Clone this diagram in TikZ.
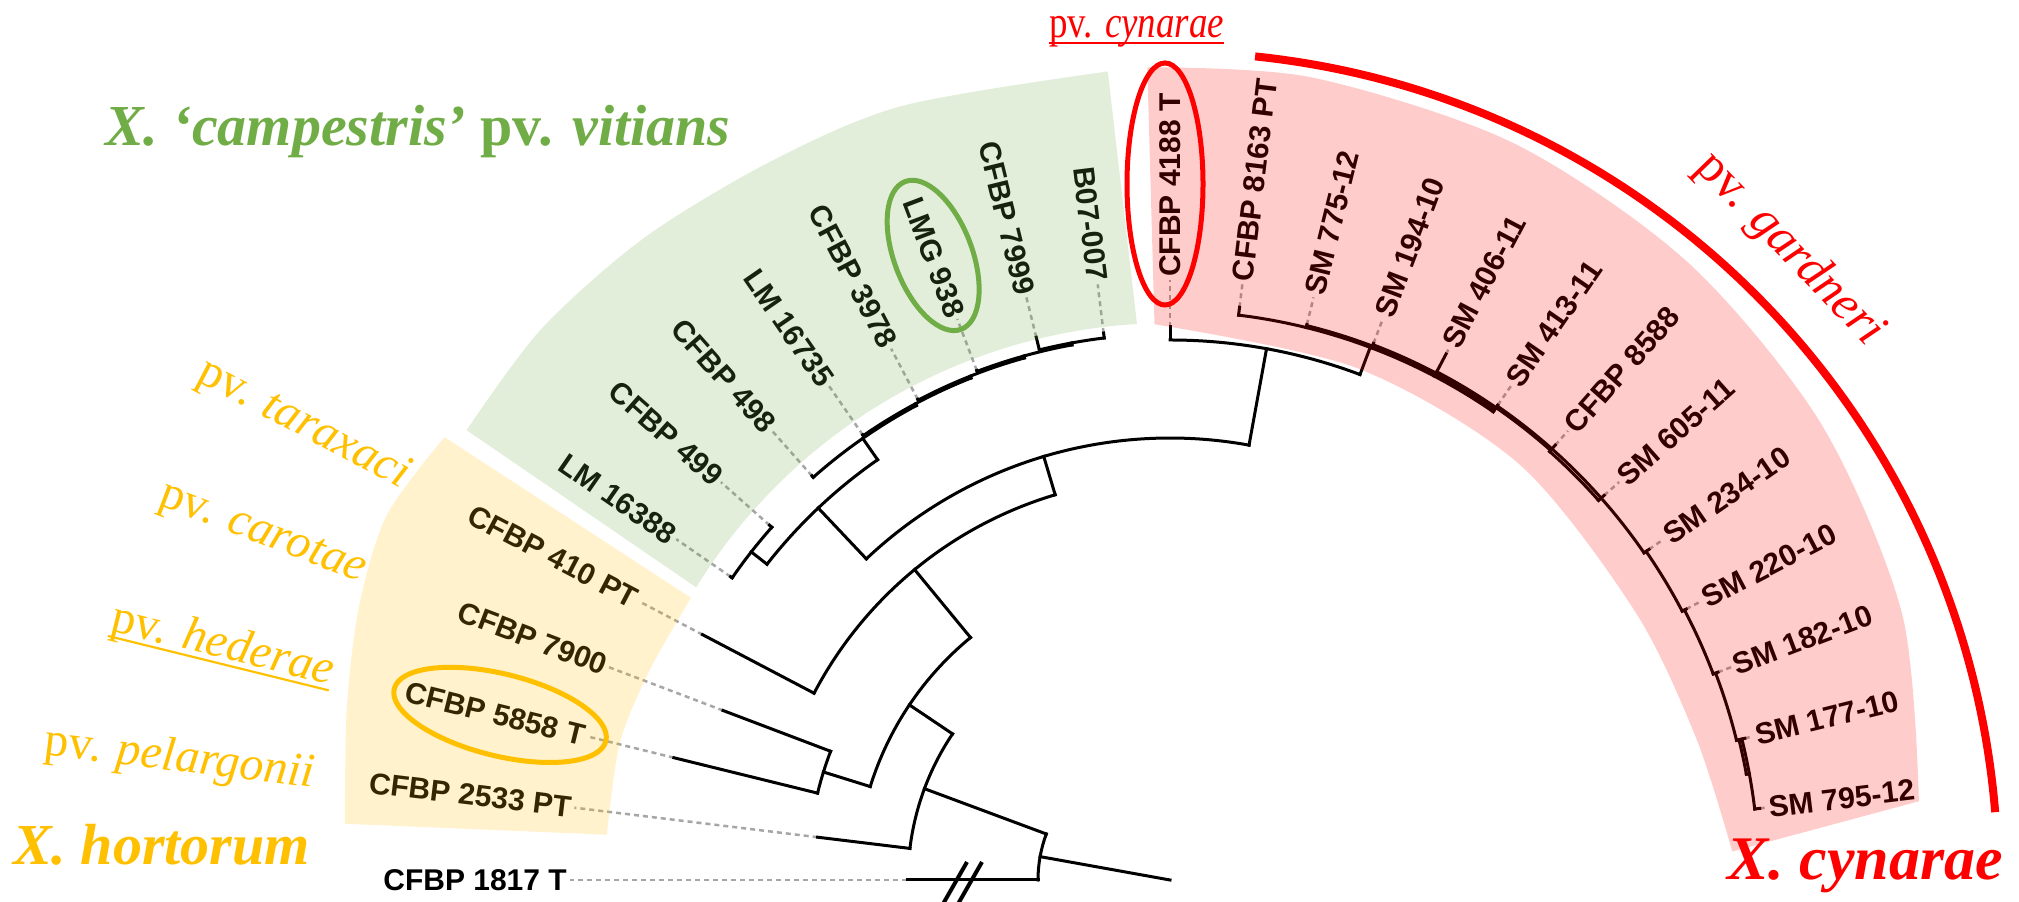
\documentclass[tikz,border=0pt]{standalone}
\usepackage{fontspec}
\setmainfont{Liberation Serif}
\newfontfamily\labfont{Liberation Sans}
\usetikzlibrary{calc}
\definecolor{xgreen}{HTML}{70AD47}
\definecolor{xorange}{HTML}{FFC000}
\definecolor{xred}{HTML}{FF0000}
\definecolor{dotgray}{HTML}{A6A6A6}
\newsavebox\ulbox
\newcommand\myul[1]{\sbox\ulbox{#1}\rlap{\rule[-0.14em]{\wd\ulbox}{0.045em}}\usebox\ulbox}
\newcommand\mystem[4]{\coordinate (#1) at (#2:#4); \draw[br] (#2:#3) -- (#1);}
\newcommand\myarc[3]{\draw[br] (#1:#3) arc[start angle=#1, end angle=#2, radius=#3];}
\newcommand\mytip[3]{\draw[br] (#2:#3) -- (#1);}
\newcommand\leafL[4]{\coordinate (t#1) at (#2:#3); \node[lab, rotate=#2-180, anchor=east] (l#1) at (#2:600) {#4}; \draw[dotl] (t#1) -- (l#1.east);}
\newcommand\leafR[4]{\coordinate (t#1) at (#2:#3); \node[lab, rotate=#2, anchor=west] (l#1) at (#2:600) {#4}; \draw[dotl] (t#1) -- (l#1.west);}
\begin{document}
\begin{tikzpicture}[x=1pt,y=1pt,
  br/.style={line width=3pt, line cap=rect},
  dotl/.style={line width=2.5pt, draw=dotgray, dash pattern=on 5pt off 4pt},
  lab/.style={font=\labfont\bfseries\fontsize{30}{33}\selectfont, inner sep=3pt},
  pvo/.style={text=xorange, font=\fontsize{48}{50}\selectfont, inner sep=0pt},
  pvr/.style={text=xred, font=\fontsize{50}{52}\selectfont, inner sep=0pt},
  big/.style={font=\bfseries\fontsize{58}{60}\selectfont, inner sep=0pt},
  ring/.style={line width=5pt}
]
\useasboundingbox (0,0) rectangle (2019,902);
\fill[white] (0,0) rectangle (2019,902);
\begin{scope}[shift={(1170,22)}]
 \coordinate (C) at (0,0);
 % leaves, dotted guides and labels
 \leafL{1}{180}{263}{CFBP 1817 T}
 \leafL{2}{173.077}{355}{CFBP 2533 PT}
 \leafL{3}{166.154}{511}{CFBP 5858 T}
 \leafL{4}{159.231}{478}{CFBP 7900}
 \leafL{5}{152.308}{528}{CFBP 410 PT}
 \leafL{6}{145.385}{534}{LM 16388}
 \leafL{7}{138.462}{535}{CFBP 499}
 \leafL{8}{131.538}{540}{CFBP 498}
 \leafL{9}{124.615}{541}{LM 16735}
 \leafL{10}{117.692}{543}{CFBP 3978}
 \leafL{11}{110.769}{545}{LMG 938}
 \leafL{12}{103.846}{559}{CFBP 7999}
 \leafL{13}{96.923}{551}{B07-007}
 \leafR{14}{90}{553}{CFBP 4188 T}
 \leafR{15}{83.077}{577}{CFBP 8163 PT}
 \leafR{16}{76.154}{572}{SM 775-12}
 \leafR{17}{69.231}{574}{SM 194-10}
 \leafR{18}{62.308}{594}{SM 406-11}
 \leafR{19}{55.385}{577}{SM 413-11}
 \leafR{20}{48.462}{581}{CFBP 8588}
 \leafR{21}{41.538}{580}{SM 605-11}
 \leafR{22}{34.615}{582}{SM 234-10}
 \leafR{23}{27.692}{583}{SM 220-10}
 \leafR{24}{20.769}{586}{SM 182-10}
 \leafR{25}{13.846}{592}{SM 177-10}
 \leafR{26}{6.923}{594}{SM 795-12}
 % tree
 \coordinate (n0) at (169.8:132);
 \draw[br] (C) -- (n0);
 \myarc{180}{159.6}{132}
 \mytip{t1}{180}{132}
 \mystem{nA}{159.6}{132}{262}
 \myarc{173.077}{146.1}{262}
 \mytip{t2}{173.077}{262}
 \mystem{nB}{146.1}{262}{314}
 \myarc{162.69}{129.45}{314}
 \mystem{nD}{162.69}{314}{363}
 \myarc{166.154}{159.231}{363}
 \mytip{t3}{166.154}{363}
 \mytip{t4}{159.231}{363}
 \mystem{nE}{129.45}{314}{402}
 \myarc{152.308}{106.6}{402}
 \mytip{t5}{152.308}{402}
 \mystem{nF}{106.6}{402}{442}
 \myarc{133.4}{79.7}{442}
 \mystem{nV}{133.4}{442}{512}
 \myarc{141.92}{124.83}{512}
 \mystem{nV1}{141.92}{512}{532}
 \myarc{145.385}{138.462}{532}
 \mytip{t6}{145.385}{532}
 \mytip{t7}{138.462}{532}
 \mystem{nV2}{124.83}{512}{538}
 \myarc{131.538}{118.13}{538}
 \mytip{t8}{131.538}{538}
 \mystem{nV3}{118.13}{538}{540}
 \myarc{124.615}{111.63}{540}
 \mytip{t9}{124.615}{540}
 \mystem{nV4}{111.63}{540}{542}
 \myarc{117.692}{105.58}{542}
 \mytip{t10}{117.692}{542}
 \mystem{nV5}{105.58}{542}{544}
 \myarc{110.769}{100.38}{544}
 \mytip{t11}{110.769}{544}
 \mystem{nV6}{100.38}{544}{546}
 \myarc{103.846}{96.923}{546}
 \mytip{t12}{103.846}{546}
 \mytip{t13}{96.923}{546}
 \mystem{nCy}{79.7}{442}{540}
 \myarc{90}{69.4}{540}
 \mytip{t14}{90}{540}
 \mystem{nCy2}{69.4}{540}{569}
 \myarc{83.077}{55.385}{569}
 \mytip{t15}{83.077}{569}
 \myarc{76.154}{55.385}{571}
 \mytip{t16}{76.154}{569}
 \myarc{69.231}{55.385}{572.5}
 \mytip{t17}{69.231}{569}
 \myarc{62.308}{48.5}{574}
 \mytip{t18}{62.308}{569}
 \mytip{t19}{55.385}{569}
 \myarc{55.385}{34.615}{576}
 \myarc{48.462}{41.538}{572.5}
 \mytip{t20}{48.462}{572.5}
 \mytip{t21}{41.538}{572.5}
 \myarc{34.615}{27.692}{578.5}
 \mytip{t22}{34.615}{576}
 \myarc{27.692}{20.769}{581}
 \mytip{t23}{27.692}{578.5}
 \myarc{20.769}{13.846}{583.5}
 \mytip{t24}{20.769}{581}
 \myarc{13.846}{10.4}{586}
 \mystem{nCy9}{10.4}{586}{589}
 \myarc{13.846}{6.923}{589}
 \mytip{t25}{13.846}{583.5}
 \mytip{t26}{6.923}{589}
 % shaded groups
 \fill[xred, fill opacity=0.2] plot[smooth] coordinates {(91.6:813) (80:815) (65:813) (50:806) (35:795) (20:779) (6.0:753)}
   -- plot[smooth] coordinates {(2.9:563) (15:545) (30:537) (50:543) (70:545) (91.6:556)} -- cycle;
 \fill[xgreen, fill opacity=0.2] plot[smooth] coordinates {(94.4:811) (109:819) (119:822) (129.3:830) (138.8:836) (147.4:835)}
   -- (148.3:557) arc[start angle=148.3, end angle=93.4, radius=557] -- cycle;
 \fill[xorange, fill opacity=0.2] plot[smooth] coordinates {(148.6:850) (155:864) (161.3:856) (168.2:841) (176.1:827)}
   -- plot[smooth] coordinates {(175.4:565) (166:567) (158:561) (149.5:556)} -- cycle;
 % highlight rings
 \draw[ring, xred] (-5,696) ellipse [x radius=38, y radius=121];
 \draw[ring, xgreen, rotate around={110.769:(110.769:668)}] (110.769:668) ellipse [x radius=79, y radius=39];
 \draw[ring, xorange, rotate around={166.154:(166.154:690)}] (166.154:690) ellipse [x radius=109, y radius=41];
 % pv. gardneri bracket
 \draw[xred, line width=8pt] (84.1:828) arc[start angle=84.1, end angle=4.7, radius=828];
 \node[pvr, rotate=-46] (pg) at (45.5:884) {pv. \textit{gardneri}};
 % hortorum pathovars
 \node[pvo, rotate=152.308-180, anchor=east] (ptar) at (152.308:862) {pv. \textit{taraxaci}};
 \node[pvo, rotate=159.231-180, anchor=east] (pcar) at (159.231:862) {pv. \textit{carotae}};
 \node[pvo, rotate=166.154-180, anchor=east] (phed) at (166.154:862) {\myul{pv. \textit{hederae}}};
 \node[pvo, rotate=173.077-180, anchor=east] (ppel) at (173.077:862) {pv. \textit{pelargonii}};
\end{scope}
% break marks on the outgroup branch
\draw[line width=4pt] (943,-2) -- (967,40);
\draw[line width=4pt] (958,-2) -- (982,40);
% titles
\node[big, text=xgreen, anchor=base west] (tvit) at (105,756) {\textit{X. ‘campestris’} pv. \textit{vitians}};
\node[text=xred, font=\fontsize{45}{47}\selectfont, inner sep=0pt, anchor=base west, xscale=0.82] (tcyn) at (1049,864) {\myul{pv. \textit{cynarae}}};
\node[big, text=xred, anchor=base east, font=\bfseries\fontsize{62}{64}\selectfont] (txc) at (2003,22) {\textit{X. cynarae}};
\node[big, text=xorange, anchor=base west] (txh) at (13,37) {\textit{X. hortorum}};
\end{tikzpicture}
\end{document}
